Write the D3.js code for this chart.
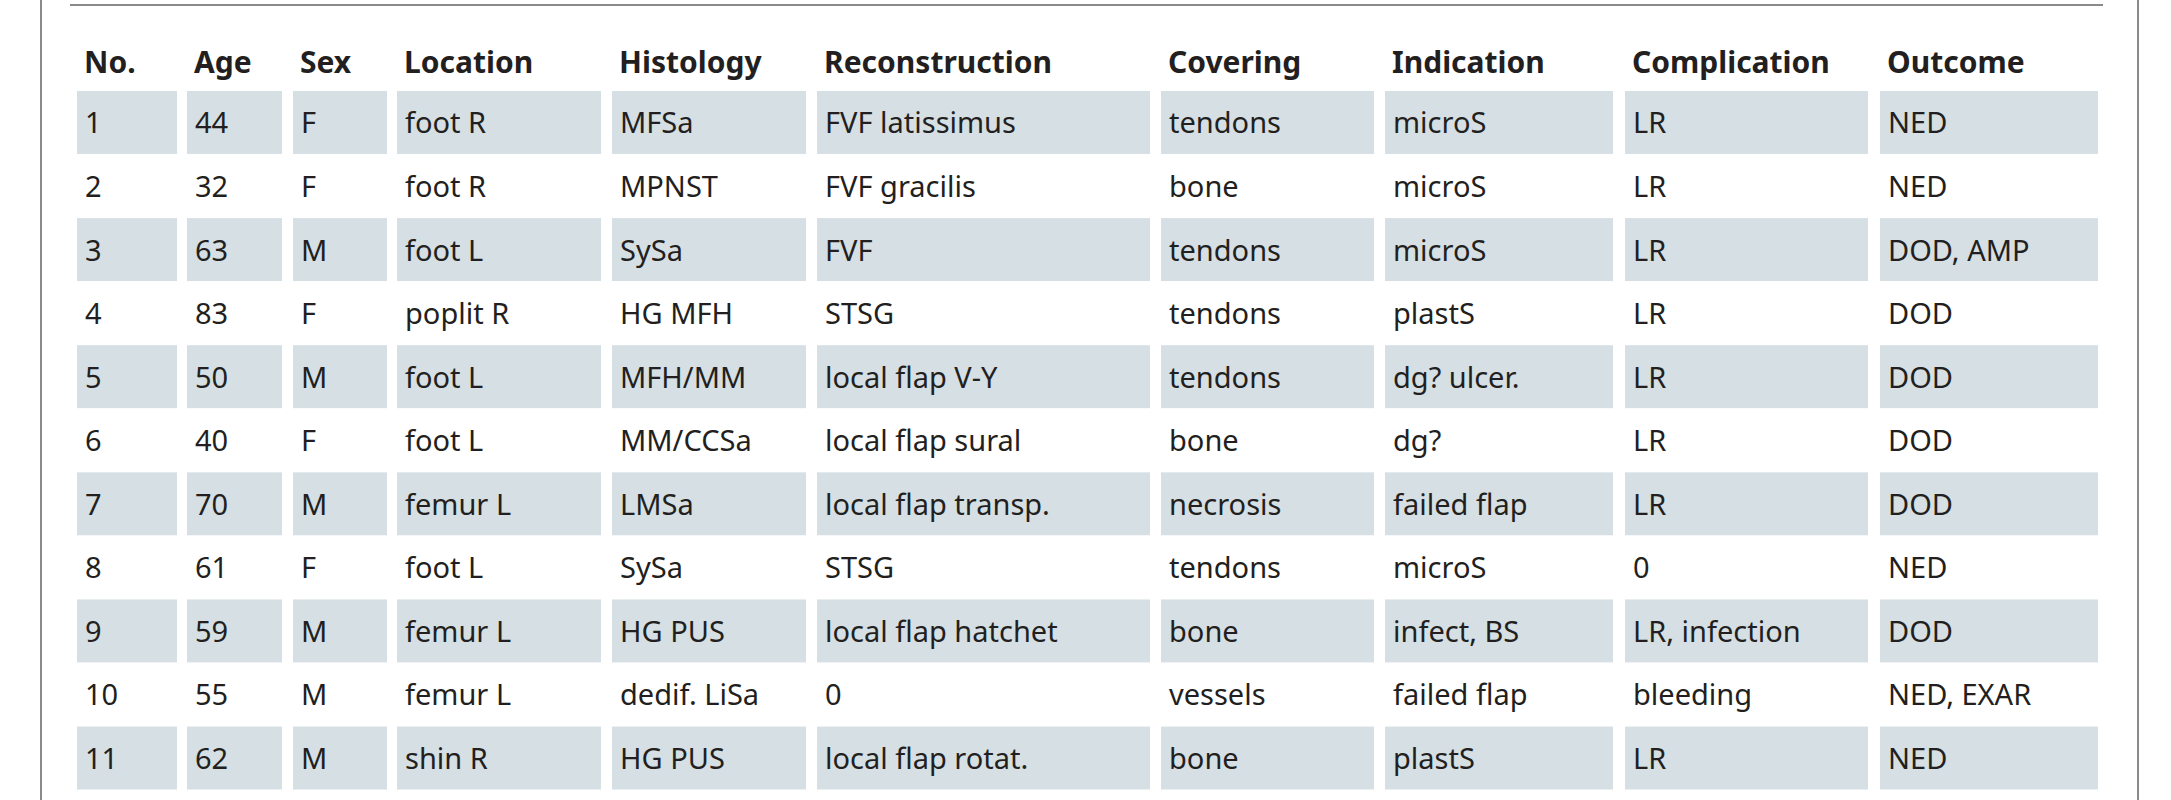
<!DOCTYPE html>
<html><head><meta charset="utf-8">
<script src="https://cdn.jsdelivr.net/npm/d3@7"></script>
<style>body{margin:0;background:#fff}</style>
</head><body>
<script>
const headers = ["No.","Age","Sex","Location","Histology","Reconstruction","Covering","Indication","Complication","Outcome"];
const colNo = ["1","2","3","4","5","6","7","8","9","10","11"];
const colAge = ["44","32","63","83","50","40","70","61","59","55","62"];
const colSex = ["F","F","M","F","M","F","M","F","M","M","M"];
const colLocation = ["foot R","foot R","foot L","poplit R","foot L","foot L","femur L","foot L","femur L","femur L","shin R"];
const colHistology = ["MFSa","MPNST","SySa","HG MFH","MFH/MM","MM/CCSa","LMSa","SySa","HG PUS","dedif. LiSa","HG PUS"];
const colReconstruction = ["FVF latissimus","FVF gracilis","FVF","STSG","local flap V-Y","local flap sural","local flap transp.","STSG","local flap hatchet","0","local flap rotat."];
const colCovering = ["tendons","bone","tendons","tendons","tendons","bone","necrosis","tendons","bone","vessels","bone"];
const colIndication = ["microS","microS","microS","plastS","dg? ulcer.","dg?","failed flap","microS","infect, BS","failed flap","plastS"];
const colComplication = ["LR","LR","LR","LR","LR","LR","LR","0","LR, infection","bleeding","LR"];
const colOutcome = ["NED","NED","DOD, AMP","DOD","DOD","DOD","DOD","NED","DOD","NED, EXAR","NED"];

const columns = [colNo,colAge,colSex,colLocation,colHistology,colReconstruction,colCovering,colIndication,colComplication,colOutcome];
const colStart = [77,187,293,397,612,817,1161,1385,1625,1880];
const colEnd   = [177,282,387,601,806,1150,1374,1613,1868,2098];

const W=2171,H=800;
const svg=d3.select("body").append("svg").attr("width",W).attr("height",H);
const font="'Noto Sans', sans-serif";
const ink="#231f20";

svg.append("line").attr("x1",41).attr("x2",41).attr("y1",0).attr("y2",H).attr("stroke","#8a8a8a").attr("stroke-width",2);
svg.append("line").attr("x1",2138).attr("x2",2138).attr("y1",0).attr("y2",H).attr("stroke","#8a8a8a").attr("stroke-width",2);
svg.append("line").attr("x1",70).attr("x2",2103).attr("y1",5).attr("y2",5).attr("stroke","#8a8a8a").attr("stroke-width",2);

const y=d3.scaleBand().domain(d3.range(colNo.length)).range([91,91+63.5*colNo.length]).paddingInner(0.01);

svg.selectAll("text.h").data(headers).join("text").attr("class","h")
  .attr("x",(d,i)=>colStart[i]+7).attr("y",73)
  .attr("font-family",font).attr("font-weight","bold").attr("font-size",30).attr("fill",ink).text(d=>d);

columns.forEach((col,ci)=>{
  const g=svg.append("g");
  g.selectAll("rect").data(col.map((v,i)=>i).filter(i=>i%2===0)).join("rect")
    .attr("x",colStart[ci]).attr("width",colEnd[ci]-colStart[ci])
    .attr("y",i=>y(i)).attr("height",y.bandwidth()).attr("fill","#d5dfe4");
  g.selectAll("text").data(col).join("text")
    .attr("x",colStart[ci]+8).attr("y",(d,i)=>y(i)+y.bandwidth()/2+11)
    .attr("font-family",font).attr("font-size",29).attr("fill",ink).text(d=>d);
});
</script>
</body></html>
